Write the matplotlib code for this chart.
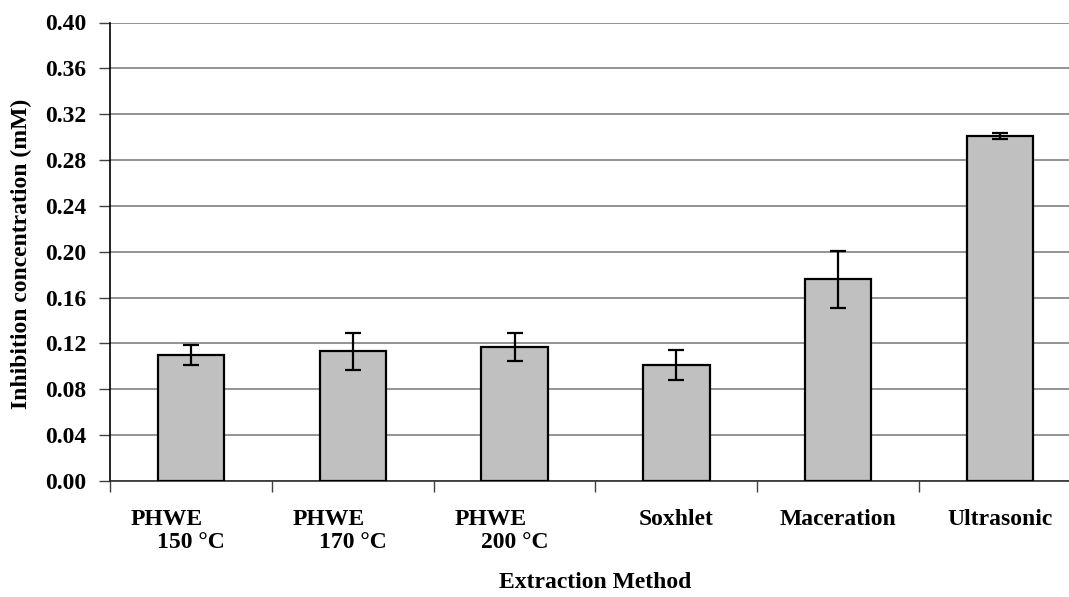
import matplotlib
matplotlib.use("Agg")
import matplotlib.pyplot as plt
import matplotlib.transforms as mtransforms
import numpy as np

# Extraction methods, their temperatures (PHWE only) and measured values
methods = ["PHWE", "PHWE", "PHWE", "Soxhlet", "Maceration", "Ultrasonic"]
temperatures = ["150 °C", "170 °C", "200 °C", "", "", ""]
inhibition = [0.110, 0.113, 0.117, 0.101, 0.176, 0.301]
std_dev = [0.009, 0.016, 0.012, 0.013, 0.025, 0.003]
y_ticks = [0.00, 0.04, 0.08, 0.12, 0.16, 0.20, 0.24, 0.28, 0.32, 0.36, 0.40]

plt.rcParams["font.family"] = ["Liberation Serif", "DejaVu Serif"]
plt.rcParams["font.weight"] = "bold"
FS = 17

fig = plt.figure(figsize=(10.69, 5.97), dpi=100)
ax = fig.add_axes([110 / 1069, 116 / 597, 971 / 1069, 458.5 / 597])

x = np.arange(len(methods))
ax.bar(x, inhibition, width=0.41, color="#c0c0c0", edgecolor="black",
       linewidth=1.6, zorder=3)
ax.errorbar(x, inhibition, yerr=std_dev, fmt="none", ecolor="black",
            elinewidth=1.6, capsize=6, capthick=1.6, zorder=4)

ax.set_xlim(-0.5, len(methods) - 0.5)
ax.set_ylim(0, 0.40)
ax.set_yticks(y_ticks)
ax.set_yticklabels([f"{v:.2f}" for v in y_ticks], fontsize=FS, fontweight="bold")
ax.yaxis.grid(True, color="#808080", linewidth=1.2, zorder=0)
ax.set_axisbelow(True)

# category boundaries carry the tick marks, centres carry the labels
ax.set_xticks(np.arange(-0.5, len(methods)), minor=True)
ax.set_xticks(x)
ax.set_xticklabels([""] * len(methods))
ax.tick_params(axis="x", which="major", length=0)
ax.tick_params(axis="x", which="minor", length=8, width=1, color="#404040",
               direction="out")
ax.tick_params(axis="y", length=8, width=1, color="#404040", pad=9,
               direction="out")

for side in ("top", "right"):
    ax.spines[side].set_visible(False)
ax.spines["left"].set_color("black")
ax.spines["left"].set_linewidth(1.2)
ax.spines["bottom"].set_color("#303030")
ax.spines["bottom"].set_linewidth(1.2)

# two-line labels for the PHWE runs, single-line for the others
base = mtransforms.blended_transform_factory(ax.transData, ax.transAxes)
for xi, name, temp in zip(x, methods, temperatures):
    if temp:
        shift = mtransforms.ScaledTranslation(-24 / 100, -44 / 100, fig.dpi_scale_trans)
        ax.text(xi, 0, name, transform=base + shift, ha="center", va="baseline",
                fontsize=FS, fontweight="bold")
        shift2 = mtransforms.ScaledTranslation(0, -67 / 100, fig.dpi_scale_trans)
        ax.text(xi, 0, temp, transform=base + shift2, ha="center", va="baseline",
                fontsize=FS, fontweight="bold")
    else:
        shift = mtransforms.ScaledTranslation(0, -44 / 100, fig.dpi_scale_trans)
        ax.text(xi, 0, name, transform=base + shift, ha="center", va="baseline",
                fontsize=FS, fontweight="bold")

fig.text((110 + 1081) / 2 / 1069, 1 - 588 / 597, "Extraction Method",
         ha="center", va="baseline", fontsize=FS, fontweight="bold")
fig.text(21 / 1069, 1 - 254 / 597, "Inhibition concentration (mM)",
         rotation=90, ha="center", va="center", fontsize=FS, fontweight="bold")

fig.savefig("out.png", dpi=100, facecolor="white")
